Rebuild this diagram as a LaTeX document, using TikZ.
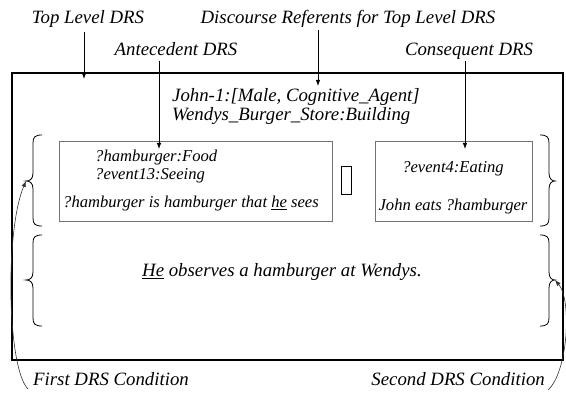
\documentclass[tikz,border=0pt]{standalone}
\usepackage{fontspec}
\setmainfont{Liberation Serif}
\usetikzlibrary{arrows.meta}
\begin{document}
\begin{tikzpicture}[x=1pt,y=-1pt,
  big/.style={font=\fontsize{18.8}{19}\selectfont\itshape, inner sep=0pt},
  small/.style={font=\fontsize{16.6}{17}\selectfont\itshape, inner sep=0pt},
  arr/.style={-{Latex[length=6pt,width=4.5pt]}, line width=0.8pt},
  curvearr/.style={-{Latex[length=6pt,width=4.5pt]}, line width=0.6pt, black!80},
  brace/.style={line width=0.8pt},
  drsbox/.style={draw=black!55, line width=0.9pt},
  outerbox/.style={draw=black, line width=1.8pt}]
\useasboundingbox (0,0) rectangle (566,393);
% outer box
\draw[outerbox] (12,73) rectangle (563,360);
\coordinate (outerTop) at (84,73);
% labels
\node[big, anchor=base] (toplevel) at (88,24) {Top Level DRS};
\node[big, anchor=base] (disc) at (348,24) {Discourse Referents for Top Level DRS};
\node[big, anchor=base] (ante) at (176,56) {Antecedent DRS};
\node[big, anchor=base] (cons) at (469,56) {Consequent DRS};
% referents
\node[big, anchor=base west] (john1) at (172,102) {John-1:[Male, Cognitive\_Agent]};
\node[big, anchor=base west] (john2) at (172,121) {Wendys\_Burger\_Store:Building};
% antecedent box
\draw[drsbox] (59,141) rectangle (332,221);
\coordinate (anteTop) at (159,141);
\node[small, anchor=base west] (a1) at (95,162) {?hamburger:Food};
\node[small, anchor=base west] (a2) at (95,180) {?event13:Seeing};
\node[small, anchor=base west] (a3) at (63,208) {?hamburger is hamburger that \underline{he} sees};
% implication glyph box
\node[draw, line width=1.8pt, minimum width=10pt, minimum height=28pt, inner sep=0pt] (impl) at (346.5,180.5) {};
% consequent box
\draw[drsbox] (375,141) rectangle (532,221);
\coordinate (consTop) at (465,141);
\node[small, anchor=base] (c1) at (453,173) {?event4:Eating};
\node[small, anchor=base] (c2) at (453,211) {John eats ?hamburger};
% second condition
\node[big, anchor=base west] (cond2) at (142,277) {\underline{He} observes a hamburger at Wendys.};
% braces
\coordinate (lb1) at (26,181);
\coordinate (lb2) at (26,280);
\coordinate (rb1) at (555,181);
\coordinate (rb2) at (555,280);
\foreach \t/\m/\b in {135/181/226, 235/280/326}{
  \draw[brace] (42,\t) .. controls (35,\t) and (33,\t+2) .. (33,\t+8)
     -- (33,\m-8) .. controls (33,\m-2) and (30,\m) .. (26,\m)
     .. controls (30,\m) and (33,\m+2) .. (33,\m+8)
     -- (33,\b-8) .. controls (33,\b-2) and (35,\b) .. (42,\b);
  \draw[brace] (540,\t) .. controls (547,\t) and (549,\t+2) .. (549,\t+8)
     -- (549,\m-8) .. controls (549,\m-2) and (552,\m) .. (555,\m)
     .. controls (552,\m) and (549,\m+2) .. (549,\m+8)
     -- (549,\b-8) .. controls (549,\b-2) and (547,\b) .. (540,\b);
}
% bottom labels
\node[big, anchor=base west] (first) at (33,385) {First DRS Condition};
\node[big, anchor=base east] (second) at (545,385) {Second DRS Condition};
% arrows
\draw[arr] (toplevel.south -| outerTop) ++(0,4) -- ([yshift=-6pt]outerTop);
\coordinate (discFrom) at (318,30);
\draw[arr] (discFrom) -- (318,86);
\coordinate (anteFrom) at (159,61);
\draw[arr] (anteFrom) -- ([yshift=-8pt]anteTop);
\coordinate (consFrom) at (465,61);
\draw[arr] (consFrom) -- ([yshift=-8pt]consTop);
% condition curves
\draw[curvearr] ([xshift=-5pt,yshift=-4pt]first.base west) .. controls (7,368) and (5,230) .. (lb1);
\draw[curvearr] ([xshift=3pt,yshift=-5pt]second.base east) .. controls (568,372) and (572,300) .. (rb2);
\end{tikzpicture}
\end{document}
